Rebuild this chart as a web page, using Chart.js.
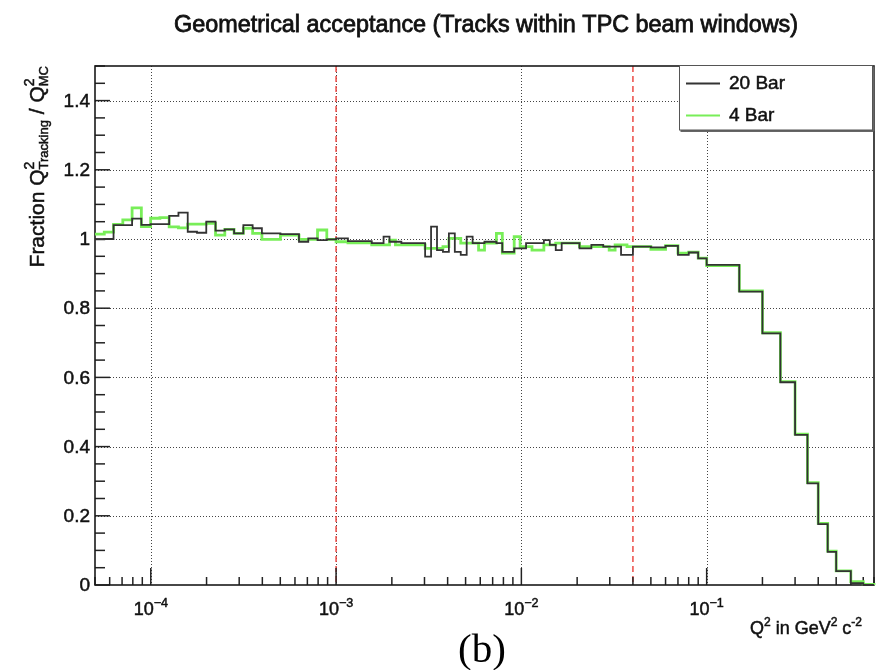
<!DOCTYPE html>
<html>
<head>
<meta charset="utf-8">
<title>Geometrical acceptance</title>
<script src="https://cdn.jsdelivr.net/npm/chart.js@4.4.1/dist/chart.umd.min.js"></script>
<style>
  html, body { margin: 0; padding: 0; background: #fff; }
  #wrap { position: relative; width: 876px; height: 670px; }
</style>
</head>
<body>
<div id="wrap"><canvas id="accChart" width="876" height="670"></canvas></div>
<script>
// Axis ranges
const Q2_MIN = 5e-5, Q2_MAX = 0.8;
const Y_MIN = 0, Y_MAX = 1.5;

// Tick labels
const yMajorTicks = [0, 0.2, 0.4, 0.6, 0.8, 1, 1.2, 1.4];
const yTickLabels = ['0', '0.2', '0.4', '0.6', '0.8', '1', '1.2', '1.4'];
const xDecades = [1e-4, 1e-3, 1e-2, 1e-1];
const xDecadeExponents = ['\u22124', '\u22123', '\u22122', '\u22121'];

// Q2 cuts shown as dashed lines
const cutLines = [1e-3, 0.04];

const seriesNames = ['20 Bar', '4 Bar'];
const seriesColors = ['#333333', '#78ee58'];

// Binning: log bins below 1e-3, finer log bins up to 0.04, then fixed-width bins
function logEdges(lo, hi, n) {
  const a = Math.log10(lo), b = Math.log10(hi);
  const out = [];
  for (let i = 0; i <= n; i++) out.push(Math.pow(10, a + (b - a) * i / n));
  return out;
}
const edgesLow = logEdges(5e-5, 1e-3, 26);
const edgesMid = logEdges(1e-3, 0.04, 50);
const edgesHigh = [0.04, 0.05, 0.06, 0.07, 0.08, 0.09, 0.1, 0.15, 0.2, 0.25, 0.3,
                   0.35, 0.4, 0.45, 0.5, 0.55, 0.6, 0.65, 0.7, 0.75, 0.8];

// 20 Bar fractions
const lowBins20 = [0.999, 1.000, 1.040, 1.040, 1.059, 1.041, 1.043, 1.043, 1.067, 1.076,
                   1.021, 1.018, 1.050, 1.024, 1.028, 1.016, 1.040, 1.031, 1.016, 1.016,
                   1.014, 1.014, 0.992, 1.002, 0.997, 0.999];
const midBins20 = [1.002, 1.002, 0.994, 0.994, 0.994, 0.994, 0.988, 0.988, 1.007, 0.992,
                   0.992, 0.988, 0.988, 0.988, 0.988, 0.949, 1.036, 0.968, 0.963, 1.016,
                   0.963, 0.954, 1.007, 0.988, 0.988, 0.992, 0.992, 0.988, 0.963, 0.963,
                   0.973, 0.973, 0.988, 0.988, 0.988, 0.997, 0.983, 0.968, 0.988, 0.988,
                   0.988, 0.973, 0.973, 0.983, 0.983, 0.978, 0.978, 0.978, 0.954, 0.954];
const highBins20 = [0.978, 0.976, 0.980, 0.954, 0.961, 0.944, 0.925, 0.848, 0.727, 0.586,
                    0.434, 0.294, 0.176, 0.096, 0.040, 0.040, 0.005, 0.005, 0.000, 0.000];

// 4 Bar fractions
const lowBins4 = [1.014, 1.020, 1.042, 1.055, 1.090, 1.036, 1.060, 1.062, 1.035, 1.032,
                  1.043, 1.043, 1.045, 1.011, 1.028, 1.016, 1.031, 1.016, 0.999, 0.999,
                  1.011, 1.011, 0.999, 0.999, 1.026, 0.999];
const midBins4 = [0.992, 0.992, 0.989, 0.989, 0.989, 0.989, 0.983, 0.983, 0.983, 0.997,
                  0.983, 0.983, 0.983, 0.983, 0.983, 0.973, 0.973, 0.973, 0.978, 1.002,
                  1.002, 0.988, 0.988, 0.988, 0.968, 0.988, 0.988, 1.016, 0.959, 0.959,
                  1.007, 0.978, 0.978, 0.968, 0.968, 0.983, 0.983, 0.988, 0.988, 0.988,
                  0.988, 0.978, 0.978, 0.978, 0.978, 0.978, 0.968, 0.983, 0.983, 0.978];
const highBins4 = [0.978, 0.970, 0.981, 0.959, 0.962, 0.945, 0.923, 0.850, 0.729, 0.588,
                   0.436, 0.296, 0.178, 0.098, 0.041, 0.041, 0.010, 0.010, 0.002, 0.002];

const binEdges = edgesLow.concat(edgesMid.slice(1), edgesHigh.slice(1));
const frac20 = lowBins20.concat(midBins20, highBins20);
const frac4 = lowBins4.concat(midBins4, highBins4);

// histogram outline: start and end on zero, each bin value held until the next edge
function histPoints(edges, vals) {
  const pts = [{ x: edges[0], y: 0 }];
  vals.forEach((v, i) => pts.push({ x: edges[i], y: v }));
  pts.push({ x: edges[edges.length - 1], y: 0 });
  return pts;
}

const SANS = '"Liberation Sans", Arial, Helvetica, sans-serif';
const SERIF = '"Liberation Serif", "Times New Roman", serif';

// fill plus a hairline stroke so the glyphs come out a little heavier
function paintText(ctx, t, x, y) {
  ctx.fillText(t, x, y);
  ctx.lineWidth = 0.5;
  ctx.strokeStyle = ctx.fillStyle;
  ctx.strokeText(t, x, y);
}

// text with super/subscripts; a segment with stack:true starts where the previous one did
function richText(ctx, segs, x, y, align) {
  let cx = 0, lastStart = 0;
  const placed = segs.map(sg => {
    ctx.font = sg.size + 'px ' + SANS;
    const w = ctx.measureText(sg.t).width;
    const start = sg.stack ? lastStart : cx;
    if (!sg.stack) lastStart = start;
    cx = Math.max(cx, start + w);
    return { sg, start };
  });
  const ox = align === 'right' ? x - cx : align === 'center' ? x - cx / 2 : x;
  ctx.textAlign = 'left';
  ctx.textBaseline = 'alphabetic';
  placed.forEach(({ sg, start }) => {
    ctx.font = sg.size + 'px ' + SANS;
    paintText(ctx, sg.t, ox + start, y + (sg.dy || 0));
  });
}

function hLine(ctx, x0, x1, y) { ctx.beginPath(); ctx.moveTo(x0, y); ctx.lineTo(x1, y); ctx.stroke(); }
function vLine(ctx, x, y0, y1) { ctx.beginPath(); ctx.moveTo(x, y0); ctx.lineTo(x, y1); ctx.stroke(); }

const rootStyle = {
  id: 'rootStyle',
  beforeDraw(chart) {
    const ctx = chart.ctx;
    ctx.save();
    ctx.fillStyle = '#fff';
    ctx.fillRect(0, 0, chart.width, chart.height);
    ctx.restore();
  },
  beforeDatasetsDraw(chart) {
    const { ctx, chartArea: a } = chart;
    const xs = chart.scales.x, ys = chart.scales.y;
    ctx.save();

    // dotted grid at labelled ticks
    ctx.strokeStyle = '#444';
    ctx.lineWidth = 1;
    ctx.setLineDash([1, 2]);
    yMajorTicks.forEach(v => {
      if (v <= Y_MIN) return;
      hLine(ctx, a.left, a.right, Math.round(ys.getPixelForValue(v)) + 0.5);
    });
    xDecades.forEach(v => {
      vLine(ctx, Math.round(xs.getPixelForValue(v)) + 0.5, a.top, a.bottom);
    });

    // dashed red cut lines
    ctx.strokeStyle = '#ec4a45';
    ctx.lineWidth = 1.5;
    ctx.setLineDash([6, 4]);
    cutLines.forEach(v => vLine(ctx, xs.getPixelForValue(v), a.top, a.bottom));
    ctx.setLineDash([]);

    // ticks pointing inwards
    ctx.strokeStyle = '#222';
    ctx.lineWidth = 1.5;
    for (let i = 0; i <= 30; i++) {
      const py = ys.getPixelForValue(i * 0.05);
      hLine(ctx, a.left, a.left + (i % 4 === 0 ? 15 : 10), py);
    }
    for (let d = -5; d <= -1; d++) {
      for (let k = 1; k <= 9; k++) {
        const v = k * Math.pow(10, d);
        if (v < Q2_MIN || v > Q2_MAX) continue;
        const px = xs.getPixelForValue(v);
        vLine(ctx, px, a.bottom, a.bottom - (k === 1 ? 17 : 8));
      }
    }

    // frame
    ctx.strokeStyle = '#1a1a1a';
    ctx.lineWidth = 1.6;
    ctx.strokeRect(a.left, a.top, a.right - a.left, a.bottom - a.top);
    ctx.restore();
  },
  afterDraw(chart) {
    const { ctx, chartArea: a } = chart;
    const xs = chart.scales.x, ys = chart.scales.y;
    ctx.save();
    ctx.fillStyle = '#111';

    // title, sized to its box
    const title = 'Geometrical acceptance (Tracks within TPC beam windows)';
    ctx.font = '22px ' + SANS;
    const tSize = 22 * 624 / ctx.measureText(title).width;
    ctx.font = tSize.toFixed(2) + 'px ' + SANS;
    ctx.textAlign = 'center';
    ctx.textBaseline = 'alphabetic';
    ctx.lineWidth = 0.8;
    ctx.strokeStyle = '#111';
    ctx.fillText(title, 486, 32);
    ctx.strokeText(title, 486, 32);

    // y tick labels
    ctx.font = '19px ' + SANS;
    ctx.textAlign = 'right';
    ctx.textBaseline = 'middle';
    yMajorTicks.forEach((v, i) => paintText(ctx, yTickLabels[i], a.left - 5, ys.getPixelForValue(v) + 1));

    // x tick labels 10^n
    xDecades.forEach((v, i) => {
      richText(ctx, [{ t: '10', size: 18 }, { t: xDecadeExponents[i], size: 12.5, dy: -8 }],
        xs.getPixelForValue(v), 615, 'center');
    });

    // x axis title
    richText(ctx, [
      { t: 'Q', size: 18 }, { t: '2', size: 12, dy: -8 },
      { t: ' in GeV', size: 18 }, { t: '2', size: 12, dy: -8 },
      { t: ' c', size: 18 }, { t: '-2', size: 12, dy: -8 }
    ], 862, 634, 'right');

    // y axis title, rotated, ending at the top of the frame
    ctx.save();
    ctx.translate(44, a.top);
    ctx.rotate(-Math.PI / 2);
    richText(ctx, [
      { t: 'Fraction Q', size: 21 }, { t: '2', size: 14, dy: -10 }, { t: 'Tracking', size: 13, dy: 4, stack: true },
      { t: ' / Q', size: 21 }, { t: '2', size: 14, dy: -10 }, { t: 'MC', size: 13, dy: 4, stack: true }
    ], 0, 0, 'right');
    ctx.restore();

    // legend box with shadow
    const lx = 679.5, ly = 65.5, lw = 193, lh = 64.5;
    ctx.fillStyle = '#fff';
    ctx.fillRect(lx, ly, lw, lh);
    ctx.fillStyle = '#666';
    ctx.fillRect(lx + 1, ly + lh, lw, 2);
    ctx.fillRect(lx + lw, ly + 1, 2, lh);
    ctx.strokeStyle = '#555';
    ctx.lineWidth = 1;
    ctx.strokeRect(lx, ly, lw, lh);
    const rowY = [83, 115];
    chart.data.datasets.forEach((ds, i) => {
      ctx.strokeStyle = ds.borderColor;
      ctx.lineWidth = 2;
      hLine(ctx, 686, 720, rowY[i] + 0.5);
      ctx.fillStyle = '#111';
      ctx.font = '19px ' + SANS;
      ctx.textAlign = 'left';
      ctx.textBaseline = 'middle';
      paintText(ctx, ds.label, 729, rowY[i] + 1);
    });

    // panel tag
    ctx.fillStyle = '#000';
    ctx.font = '41px ' + SERIF;
    ctx.textAlign = 'center';
    ctx.textBaseline = 'alphabetic';
    ctx.fillText('(b)', 482, 662);
    ctx.restore();
  }
};

new Chart(document.getElementById('accChart'), {
  type: 'line',
  data: {
    datasets: [
      {
        label: seriesNames[0],
        data: histPoints(binEdges, frac20),
        borderColor: seriesColors[0],
        borderWidth: 1.8,
        stepped: true,
        pointRadius: 0,
        fill: false,
        clip: 4
      },
      {
        label: seriesNames[1],
        data: histPoints(binEdges, frac4),
        borderColor: seriesColors[1],
        borderWidth: 2.8,
        stepped: true,
        pointRadius: 0,
        fill: false,
        clip: 4
      }
    ]
  },
  options: {
    responsive: false,
    animation: false,
    events: [],
    layout: { padding: { left: 95, right: 2, top: 66, bottom: 85 } },
    scales: {
      x: { type: 'logarithmic', min: Q2_MIN, max: Q2_MAX, bounds: 'data', display: false },
      y: { type: 'linear', min: Y_MIN, max: Y_MAX, display: false }
    },
    plugins: {
      legend: { display: false },
      tooltip: { enabled: false },
      title: { display: false }
    }
  },
  plugins: [rootStyle]
});
</script>
</body>
</html>
